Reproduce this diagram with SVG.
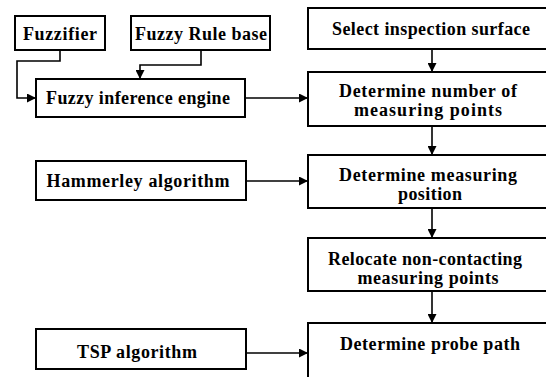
<svg xmlns="http://www.w3.org/2000/svg" width="546" height="377" viewBox="0 0 546 377">
<style>
.box{fill:#fff;stroke:#000;stroke-width:2}
text{font-family:'Liberation Serif','Times New Roman',serif;font-weight:bold;font-size:18px;fill:#000;text-anchor:middle}
.c{fill:none;stroke:#000;stroke-width:1.6}
</style>
<defs>
<marker id="ah" viewBox="0 0 10 10" refX="10" refY="5" markerWidth="9" markerHeight="9" markerUnits="userSpaceOnUse" orient="auto">
<path d="M0,0 L10,5 L0,10 z" fill="#000"/>
</marker>
</defs>
<rect width="546" height="377" fill="#fff"/>
<g id="fuzzifier"><rect class="box" x="15" y="16" width="90" height="34"/><text x="60" y="40" textLength="74" lengthAdjust="spacing">Fuzzifier</text></g>
<g id="rulebase"><rect class="box" x="131" y="16" width="139" height="34"/><text x="201" y="40" textLength="132" lengthAdjust="spacing">Fuzzy Rule base</text></g>
<g id="fie"><rect class="box" x="36" y="79" width="209" height="38"/><text x="138" y="104" textLength="184" lengthAdjust="spacing">Fuzzy inference engine</text></g>
<g id="hammerley"><rect class="box" x="36" y="161" width="210" height="39"/><text x="138" y="187" textLength="183" lengthAdjust="spacing">Hammerley algorithm</text></g>
<g id="tsp"><rect class="box" x="36" y="329" width="210" height="40"/><text x="137" y="358" textLength="120" lengthAdjust="spacing">TSP algorithm</text></g>
<g id="select"><rect class="box" x="308" y="8" width="260" height="41"/><text x="431" y="35" textLength="198" lengthAdjust="spacing">Select inspection surface</text></g>
<g id="number"><rect class="box" x="308" y="72" width="260" height="54"/><text x="428" y="97" textLength="178" lengthAdjust="spacing">Determine number of</text><text x="428" y="116" textLength="148" lengthAdjust="spacing">measuring points</text></g>
<g id="position"><rect class="box" x="308" y="155" width="260" height="53"/><text x="428" y="181" textLength="178" lengthAdjust="spacing">Determine measuring</text><text x="430" y="200" textLength="64" lengthAdjust="spacing">position</text></g>
<g id="relocate"><rect class="box" x="308" y="238" width="260" height="53"/><text x="425" y="265" textLength="194" lengthAdjust="spacing">Relocate non-contacting</text><text x="428" y="284" textLength="141" lengthAdjust="spacing">measuring points</text></g>
<g id="probe"><rect class="box" x="308" y="323" width="260" height="60"/><text x="430" y="350" textLength="180" lengthAdjust="spacing">Determine probe path</text></g>
<g id="connectors">
<path class="c" d="M60,50 V61 H17 V98 H36" marker-end="url(#ah)"/>
<path class="c" d="M201,50 V65 H140 V79" marker-end="url(#ah)"/>
<path class="c" d="M245,98 H308" marker-end="url(#ah)"/>
<path class="c" d="M246,181 H308" marker-end="url(#ah)"/>
<path class="c" d="M246,353 H308" marker-end="url(#ah)"/>
<path class="c" d="M432,49 V72" marker-end="url(#ah)"/>
<path class="c" d="M432,126 V155" marker-end="url(#ah)"/>
<path class="c" d="M432,208 V238" marker-end="url(#ah)"/>
<path class="c" d="M432,291 V323" marker-end="url(#ah)"/>
</g>
</svg>
